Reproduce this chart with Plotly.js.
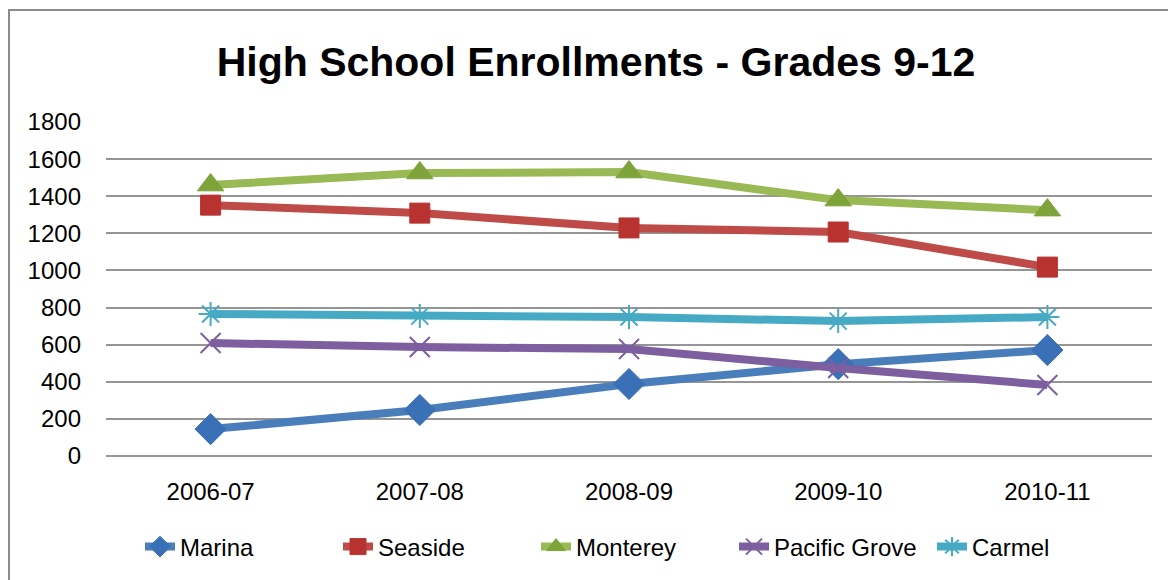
<!DOCTYPE html>
<html>
<head>
<meta charset="utf-8">
<script src="https://cdn.plot.ly/plotly-3.0.1.min.js"></script>
<style>html,body{margin:0;padding:0;background:#fff;}#chart{width:1168px;height:580px;}</style>
</head>
<body>
<div id="chart"></div>
<script>
const years = ["2006-07", "2007-08", "2008-09", "2009-10", "2010-11"];
const marina = [145, 248, 388, 495, 571];
const seaside = [1352, 1309, 1229, 1207, 1018];
const monterey = [1460, 1525, 1530, 1379, 1325];
const pacificGrove = [609, 587, 577, 474, 383];
const carmel = [765, 754, 749, 727, 749];
const yTicks = [0, 200, 400, 600, 800, 1000, 1200, 1400, 1600, 1800];

const FONT = "Liberation Sans, Arial, sans-serif";

function tr(name, y, lineColor, markerColor, symbol, size, open) {
  const m = {symbol: symbol, size: size, color: markerColor};
  m.line = {color: markerColor, width: open ? 2 : 1};
  return {
    type: "scatter", mode: "lines+markers", name: name,
    x: years, y: y,
    line: {color: lineColor, width: 8},
    marker: m
  };
}

const data = [
  tr("Marina", marina, "#4A7EBB", "#3A70B5", "diamond", 24, false),
  tr("Seaside", seaside, "#BE4B48", "#B83330", "square", 20, false),
  tr("Monterey", monterey, "#98B954", "#7DA33A", "triangle-up", 23, false),
  tr("Pacific Grove", pacificGrove, "#7D5FA0", "#7D5FA0", "x-thin-open", 20, true),
  tr("Carmel", carmel, "#46AAC5", "#46AAC5", "asterisk-open", 20, true)
];

const layout = {
  width: 1168, height: 580,
  paper_bgcolor: "#ffffff", plot_bgcolor: "#ffffff",
  margin: {l: 106, r: 16, t: 122, b: 124},
  font: {family: FONT, size: 24, color: "#000"},
  title: {
    text: "High School Enrollments - Grades 9-12",
    font: {family: FONT, size: 41, color: "#000", weight: "bold"},
    xref: "container", yref: "container",
    x: 596 / 1168, xanchor: "center",
    y: 1 - 62 / 580, yanchor: "middle"
  },
  xaxis: {
    type: "category", categoryarray: years, range: [-0.5, 4.5],
    showgrid: false, zeroline: false, showline: false,
    ticks: "", ticklabelstandoff: 19,
    tickfont: {family: FONT, size: 24, color: "#000"},
    fixedrange: true
  },
  yaxis: {
    range: [0, 1800], tickvals: yTicks,
    showgrid: true, gridcolor: "#959595", gridwidth: 2,
    zeroline: true, zerolinecolor: "#959595", zerolinewidth: 2,
    showline: false, ticks: "", ticklabelstandoff: 24,
    tickfont: {family: FONT, size: 24, color: "#000"},
    fixedrange: true
  },
  showlegend: true,
  legend: {
    orientation: "h",
    xref: "container", yref: "container",
    x: 140 / 1168, xanchor: "left",
    y: 1 - 547 / 580, yanchor: "middle",
    font: {family: FONT, size: 24, color: "#000"},
    entrywidth: 153, entrywidthmode: "pixels",
    traceorder: "normal"
  },
  shapes: [{
    type: "path", xref: "paper", yref: "paper",
    path: "M " + ((9 - 106) / 1046) + "," + ((456 - 600) / 334) +
          " L " + ((9 - 106) / 1046) + "," + ((456 - 10) / 334) +
          " L " + ((1200 - 106) / 1046) + "," + ((456 - 10) / 334),
    line: {color: "#8C8C8C", width: 2}
  }]
};

Plotly.newPlot("chart", data, layout, {displayModeBar: false, staticPlot: true});
</script>
</body>
</html>
